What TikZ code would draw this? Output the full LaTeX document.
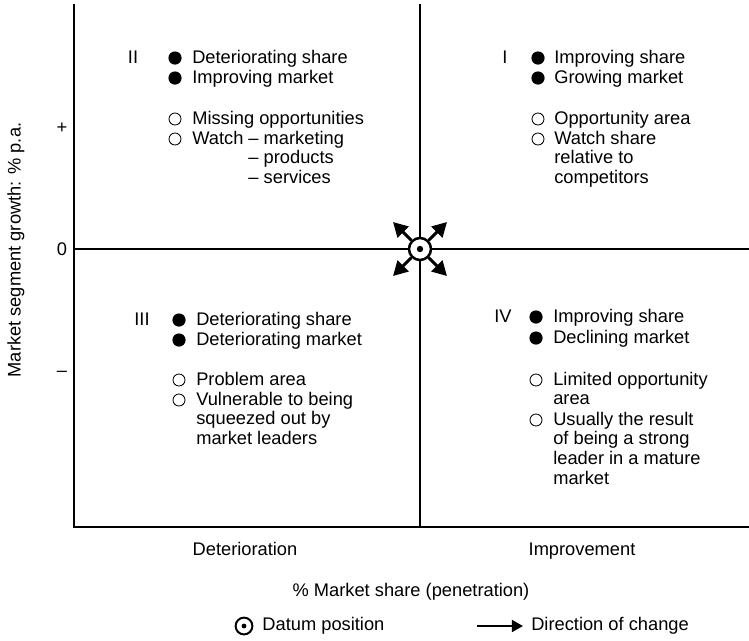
\documentclass[tikz,border=0pt]{standalone}
\usepackage{fontspec}
\setmainfont{Liberation Sans}
\usetikzlibrary{arrows.meta,positioning}
\newcommand{\chartfont}{\fontsize{13}{14.2}\selectfont}
% stacked lines, hung from the baseline of the first one
\newcommand{\lines}[1]{\begin{tabular}[t]{@{}l@{}}#1\end{tabular}}
\tikzset{
  axis/.style={line width=1.5pt, line cap=rect},
  numeral/.style={anchor=base, inner sep=0pt, font=\chartfont},
  entry/.style={anchor=base west, inner sep=0pt, font=\chartfont},
  label/.style={inner sep=0pt, font=\chartfont},
  fullmark/.style={circle, fill=black, minimum size=0.33cm, inner sep=0pt},
  openmark/.style={circle, draw=black, line width=0.6pt, minimum size=0.3cm, inner sep=0pt},
  datum/.style={
    circle, draw=black, line width=1.8pt, fill=white,
    minimum size=0.55cm, inner sep=0pt
  },
  change/.style={-{Triangle[length=3.6mm,width=3.8mm]}, line width=2.2pt},
  legendchange/.style={-{Triangle[length=2.8mm,width=3mm]}, line width=1.6pt}
}

\begin{document}
\begin{tikzpicture}[x=0.025cm,y=-0.025cm]
  \useasboundingbox (0,0) rectangle (749,640);

  % frame and quadrant lines
  \coordinate (top) at (74,5);
  \coordinate (corner) at (74,527);
  \coordinate (right) at (749,527);
  \coordinate (zero) at (74,249);
  \coordinate (midright) at (749,249);
  \coordinate (midtop) at (420,5);
  \coordinate (midbottom) at (420,527);
  \draw[axis] (top) -- (corner) -- (right);
  \draw[axis] (zero) -- (midright);
  \draw[axis] (midtop) -- (midbottom);

  % vertical axis
  \node[label,rotate=90] (growth) at (16,250) {Market segment growth: \% p.a.};
  \node[label] (plus) at (62,128) {+};
  \node[label] (nought) at (62,249) {0};
  \node[label] (minus) at (62,374) {--};

  % quadrant II
  \node[numeral] (q2) at (133,63) {II};
  \node[fullmark] (q2a) at (175,58) {};
  \node[entry] (q2at) at (192,63) {Deteriorating share};
  \node[fullmark] (q2b) at (175,78) {};
  \node[entry] (q2bt) at (192,83) {Improving market};
  \node[openmark] (q2c) at (175,119) {};
  \node[entry] (q2ct) at (192,124) {Missing opportunities};
  \node[openmark] (q2d) at (175,139) {};
  \node[entry] (q2dt) at (192,144) {\lines{Watch -- marketing\\\phantom{Watch }-- products\\\phantom{Watch }-- services}};

  % quadrant I
  \node[numeral] (q1) at (505,63) {I};
  \node[fullmark] (q1a) at (538,58) {};
  \node[entry] (q1at) at (554,63) {Improving share};
  \node[fullmark] (q1b) at (538,78) {};
  \node[entry] (q1bt) at (554,83) {Growing market};
  \node[openmark] (q1c) at (538,119) {};
  \node[entry] (q1ct) at (554,124) {Opportunity area};
  \node[openmark] (q1d) at (538,139) {};
  \node[entry] (q1dt) at (554,144) {\lines{Watch share\\relative to\\competitors}};

  % quadrant III
  \node[numeral] (q3) at (142,325) {III};
  \node[fullmark] (q3a) at (179,320) {};
  \node[entry] (q3at) at (196,325) {Deteriorating share};
  \node[fullmark] (q3b) at (179,340) {};
  \node[entry] (q3bt) at (196,345) {Deteriorating market};
  \node[openmark] (q3c) at (179,380) {};
  \node[entry] (q3ct) at (196,385) {Problem area};
  \node[openmark] (q3d) at (179,400) {};
  \node[entry] (q3dt) at (196,405) {\lines{Vulnerable to being\\squeezed out by\\market leaders}};

  % quadrant IV
  \node[numeral] (q4) at (503,322) {IV};
  \node[fullmark] (q4a) at (536,317) {};
  \node[entry] (q4at) at (553,322) {Improving share};
  \node[fullmark] (q4b) at (536,338) {};
  \node[entry] (q4bt) at (553,343) {Declining market};
  \node[openmark] (q4c) at (536,380) {};
  \node[entry] (q4ct) at (553,385) {\lines{Limited opportunity\\area}};
  \node[openmark] (q4d) at (536,420) {};
  \node[entry] (q4dt) at (553,425) {\lines{Usually the result\\of being a strong\\leader in a mature\\market}};

  % datum with directions of change
  \node[datum] (datum) at (420,249) {};
  \fill (datum) circle (0.08cm);
  \coordinate (nw) at (393,222);
  \coordinate (ne) at (447,222);
  \coordinate (sw) at (393,276);
  \coordinate (se) at (447,276);
  \draw[change] (datum) -- (nw);
  \draw[change] (datum) -- (ne);
  \draw[change] (datum) -- (sw);
  \draw[change] (datum) -- (se);

  % horizontal axis
  \node[label,anchor=base] (worse) at (245,555) {Deterioration};
  \node[label,anchor=base] (better) at (582,555) {Improvement};
  \node[label,anchor=base] (share) at (411,596) {\% Market share (penetration)};

  % key
  \node[datum,minimum size=0.42cm,line width=1.4pt] (keydatum) at (244,626) {};
  \fill (keydatum) circle (0.06cm);
  \node[label,right=0.22cm of keydatum] (keydatumtext) {Datum position};
  \coordinate (keytail) at (477,626);
  \coordinate (keyhead) at (523,626);
  \draw[legendchange] (keytail) -- (keyhead);
  \node[label,anchor=west] (keychangetext) at (531,626) {Direction of change};
\end{tikzpicture}
\end{document}
